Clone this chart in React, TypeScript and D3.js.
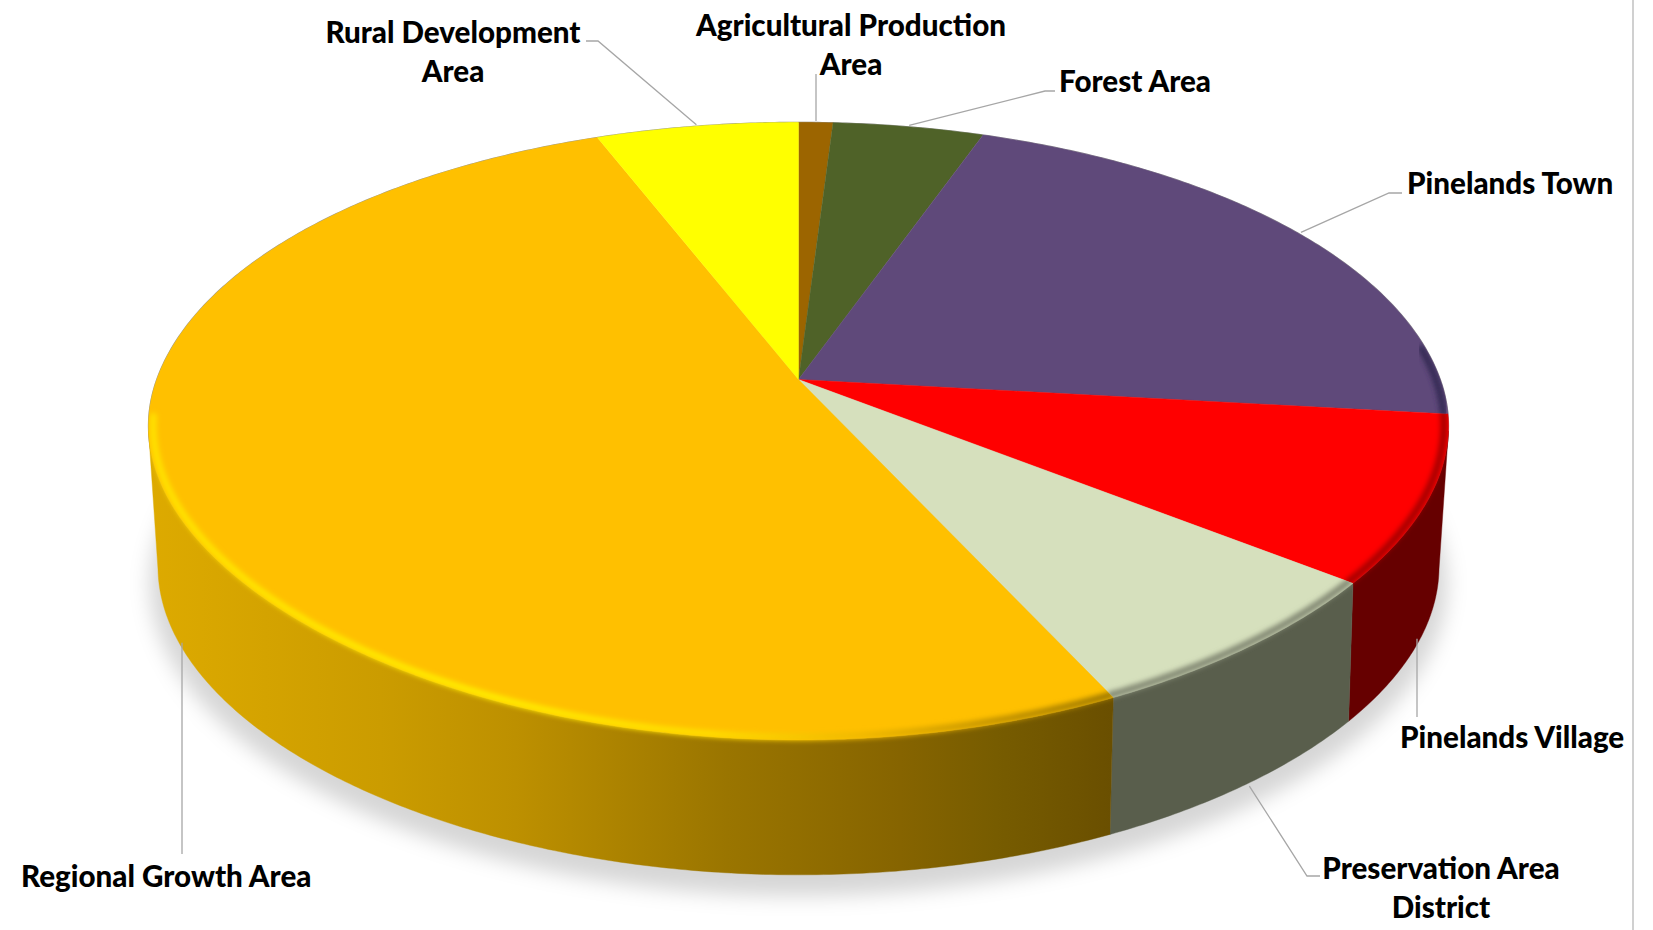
import React from "react";
import * as d3 from "d3";

// Share of land per management area, clockwise from twelve o'clock.
const categories = [
  "Agricultural Production\nArea",
  "Forest Area",
  "Pinelands Town",
  "Pinelands Village",
  "Preservation Area\nDistrict",
  "Regional Growth Area",
  "Rural Development\nArea",
];
const shares = [1.0, 4.4, 21.4, 8.8, 7.5, 51.0, 5.9];

const topColors = ["#9C6500", "#4F6228", "#5F497A", "#FF0000", "#D6E0BD", "#FFC000", "#FFFF00"];
const wallColors = ["#5E3D00", "#2F3B18", "#392C49", "#660000", "#595E4C", "url(#wall-regional)", "#999900"];
const rimColors = ["#7A5000", "#3B4A1E", "#352A55", "#A80000", "#848A74", "url(#rim-regional)", "#FFFF00"];

const WIDTH = 1653;
const HEIGHT = 930;

// Perspective disc: p is the foreshortening, the two rims are the top face and the base.
const CX = 798.5;
const P = 0.1672;
const TOP_RIM = { r: 641.8, s: 300.2, cy: 379.5, pinch: 0.014 };
const BASE_RIM = { r: 632, s: 297.2, cy: 518, pinch: 0.007 };
type Rim = typeof TOP_RIM;

// The front half of the disc is pulled in a little on its diagonals.
const frontPinch = (theta: number, amount: number) => {
  const front = theta > Math.PI / 2 && theta < (3 * Math.PI) / 2;
  return front ? 1 - amount * Math.sin(2 * (theta - Math.PI / 2)) ** 2 : 1;
};

const project = (theta: number, rim: Rim, k = 1): [number, number] => {
  const scale = k * frontPinch(theta, rim.pinch);
  const u = Math.sin(theta) * scale;
  const v = -Math.cos(theta) * scale;
  const w = 1 - P * v;
  return [CX + (rim.r * u) / w, rim.cy + (rim.s * v) / w];
};

const DEG = Math.PI / 180;
const samples = (a: number, b: number) => {
  const n = Math.max(2, Math.ceil((b - a) / (0.5 * DEG)));
  return d3.range(n + 1).map((i) => a + ((b - a) * i) / n);
};
const line = d3.line();

const slices = d3
  .pie<number>()
  .sort(null)
  .startAngle(0)
  .endAngle(Math.PI * 2)(shares);

const wedgePath = (a: number, b: number) =>
  (line([[CX, TOP_RIM.cy], ...samples(a, b).map((t) => project(t, TOP_RIM))]) as string) + "Z";

const wallPath = (a: number, b: number) => {
  const angles = samples(a, b);
  const upper = angles.map((t) => project(t, TOP_RIM));
  const lower = angles.map((t) => project(t, BASE_RIM)).reverse();
  return (line([...upper, ...lower]) as string) + "Z";
};

// Walls stop where the rim turns away from the viewer.
const TANGENT = Math.asin(P);
const WALL_FROM = Math.PI / 2 + TANGENT;
const WALL_TO = (3 * Math.PI) / 2 - TANGENT;
const BEVEL_FROM = 84 * DEG;
const BEVEL_TO = 263 * DEG;

const fullRim = (rim: Rim, k = 1) =>
  (line(samples(0, Math.PI * 2).map((t) => project(t, rim, k))) as string) + "Z";

// Leader elbows and text anchors for each category, in page pixels.
const labelLayout = [
  { rim: TOP_RIM, via: [[816, 74]], x: 851, y: 36, anchor: "middle" },
  { rim: TOP_RIM, via: [[1045, 91], [1055, 91]], x: 1059, y: 92, anchor: "start" },
  { rim: TOP_RIM, via: [[1389, 193], [1402, 193]], x: 1407, y: 194, anchor: "start" },
  { rim: BASE_RIM, via: [[1417, 717]], x: 1400, y: 748, anchor: "start" },
  { rim: BASE_RIM, via: [[1307, 876], [1320, 876]], x: 1441, y: 879, anchor: "middle" },
  { rim: BASE_RIM, via: [[182, 854]], x: 21, y: 887, anchor: "start" },
  { rim: TOP_RIM, via: [[598, 41], [586, 41]], x: 453, y: 43, anchor: "middle" },
];

const leaderPath = (i: number) => {
  const s = slices[i];
  const mid = (s.startAngle + s.endAngle) / 2;
  const layout = labelLayout[i];
  const start = project(mid, layout.rim, 1.006);
  // Vertical leaders keep the x of their far end.
  const first = layout.via[0];
  const begin: [number, number] = layout.via.length === 1 ? [first[0], start[1]] : start;
  return line([begin, ...(layout.via as [number, number][])]) as string;
};

export default function App() {
  return (
    <svg
      width={WIDTH}
      height={HEIGHT}
      viewBox={`0 0 ${WIDTH} ${HEIGHT}`}
      style={{ position: "fixed", left: 0, top: 0, display: "block", background: "#fff" }}
    >
      <defs>
        <filter id="soft-shadow" x="-10%" y="-10%" width="120%" height="125%">
          <feGaussianBlur stdDeviation="10" />
        </filter>
        <filter id="soft-rim" x="-10%" y="-10%" width="120%" height="120%">
          <feGaussianBlur stdDeviation="2.4" />
        </filter>
        <linearGradient id="wall-regional" gradientUnits="userSpaceOnUse" x1="150" x2="1112" y1="0" y2="0">
          <stop offset="0" stopColor="#DDAA00" />
          <stop offset="0.24" stopColor="#CB9C00" />
          <stop offset="0.38" stopColor="#BD9000" />
          <stop offset="0.6" stopColor="#9A7500" />
          <stop offset="0.78" stopColor="#866400" />
          <stop offset="0.88" stopColor="#775C00" />
          <stop offset="1" stopColor="#6A4F00" />
        </linearGradient>
        <linearGradient id="rim-regional" gradientUnits="userSpaceOnUse" x1="150" x2="1112" y1="0" y2="0">
          <stop offset="0" stopColor="#FFE000" />
          <stop offset="0.36" stopColor="#FFEA00" />
          <stop offset="0.58" stopColor="#FFDC00" />
          <stop offset="0.74" stopColor="#F0B800" />
          <stop offset="0.88" stopColor="#C49400" />
          <stop offset="1" stopColor="#A07A00" />
        </linearGradient>
        {slices.map((s, i) => {
          const a = Math.max(s.startAngle, WALL_FROM);
          const b = Math.min(s.endAngle, WALL_TO);
          return (
            <clipPath id={`slice-clip-${i}`} key={i}>
              <path d={wedgePath(s.startAngle, s.endAngle)} />
              {b > a && <path d={wallPath(a, b)} />}
            </clipPath>
          );
        })}
      </defs>

      <rect x={1632} y={0} width={2} height={HEIGHT} fill="#D0D0D0" />

      {/* Soft ground shadow under the disc */}
      <g filter="url(#soft-shadow)">
        <path d={fullRim(BASE_RIM, 1.012)} transform="translate(0 16)" fill="#000" opacity={0.16} />
      </g>

      {/* Hairline silhouette */}
      <path d={fullRim(TOP_RIM)} fill="none" stroke="#9A9A9A" strokeWidth={1.2} />

      {/* Side walls */}
      {slices.map((s, i) => {
        const a = Math.max(s.startAngle, WALL_FROM);
        const b = Math.min(s.endAngle, WALL_TO);
        if (b <= a) return null;
        return <path key={i} d={wallPath(a, b)} fill={wallColors[i]} stroke={wallColors[i]} strokeWidth={0.4} />;
      })}

      {/* Top face */}
      {slices.map((s, i) => (
        <path
          key={i}
          d={wedgePath(s.startAngle, s.endAngle)}
          fill={topColors[i]}
          stroke={topColors[i]}
          strokeWidth={0.4}
        />
      ))}

      {/* Rounded edge between the top face and the walls */}
      {slices.map((s, i) => {
        const a = Math.max(s.startAngle, BEVEL_FROM);
        const b = Math.min(s.endAngle, BEVEL_TO);
        if (b <= a) return null;
        return (
          <g key={i} clipPath={`url(#slice-clip-${i})`}>
            <path
              d={line(samples(a, b).map((t) => project(t, TOP_RIM, 0.993))) as string}
              fill="none"
              stroke={rimColors[i]}
              strokeWidth={7}
              strokeLinecap="round"
              filter="url(#soft-rim)"
            />
          </g>
        );
      })}

      {/* Leaders */}
      {slices.map((_, i) => (
        <path key={i} d={leaderPath(i)} fill="none" stroke="#A6A6A6" strokeWidth={1.3} />
      ))}

      {/* Category labels */}
      <g fontFamily="Lato, 'Open Sans', sans-serif" fontWeight={900} fontSize={29.6} fill="#000">
        {categories.map((name, i) => (
          <text key={i} x={labelLayout[i].x} y={labelLayout[i].y} textAnchor={labelLayout[i].anchor as "start"}>
            {name.split("\n").map((part, j) => (
              <tspan key={j} x={labelLayout[i].x} dy={j === 0 ? 0 : 39}>
                {part}
              </tspan>
            ))}
          </text>
        ))}
      </g>
    </svg>
  );
}
